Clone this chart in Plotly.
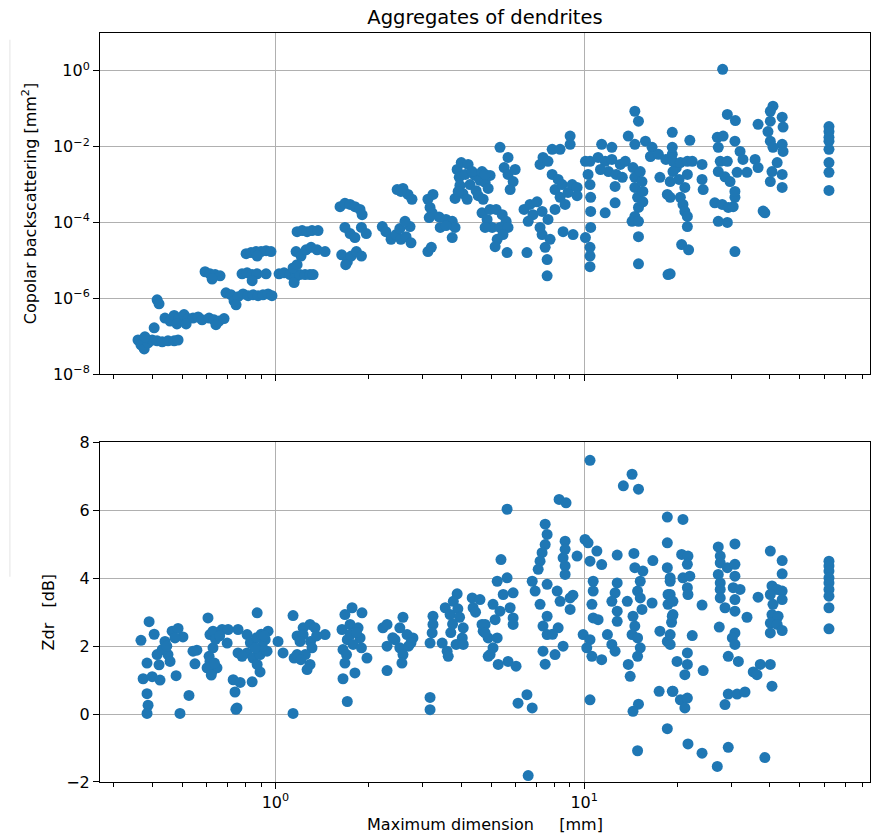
import plotly.graph_objects as go

# ---- Copolar backscattering cross section vs maximum dimension ----
top_dmax_mm = [
    0.359, 0.367, 0.376, 0.387, 0.399, 0.414, 0.430, 0.449, 0.470, 0.484, 0.378, 0.405, 0.414, 0.420,
    0.439, 0.456, 0.470, 0.488, 0.506, 0.521, 0.541, 0.562, 0.579, 0.480, 0.514,
    0.610, 0.633, 0.657, 0.682, 0.642, 0.592, 0.614, 0.638, 0.662, 0.624,
    0.692, 0.719, 0.735, 0.757, 0.786, 0.816, 0.847, 0.879, 0.912, 0.947, 0.975, 0.746,
    0.780, 0.810, 0.841, 0.873, 0.933, 0.841, 0.804, 0.834, 0.866, 0.899, 0.933, 0.968, 0.873,
    1.028, 1.067, 1.116, 1.158, 1.150, 1.20, 1.248, 1.295, 1.325, 1.141, 1.176,
    1.176, 1.221, 1.267, 1.314, 1.375, 1.167, 1.211, 1.257, 1.305, 1.365, 1.449,
    1.62, 1.68, 1.746, 1.81, 1.88, 1.91, 1.68, 1.746, 1.81, 1.90, 1.97, 1.64, 1.71, 1.76, 1.83, 1.90, 1.69,
    2.22, 2.28, 2.37, 2.46, 2.55, 2.65, 2.53, 2.73, 2.63, 2.75, 2.48, 2.59, 2.69, 2.77, 2.55,
    3.12, 3.24, 3.17, 3.22, 3.39, 3.57, 3.74, 3.82, 3.74, 3.42, 3.57, 3.15, 3.12, 3.20,
    3.88, 3.94, 3.96, 4.05, 4.18, 4.27, 4.43, 4.60, 4.78, 4.96, 4.00, 4.21, 3.82, 4.47, 4.12, 4.34, 4.67, 4.89, 4.54, 3.91,
    4.67, 4.85, 5.04, 5.23, 4.78, 5.15, 4.96, 4.78, 4.71,
    5.34, 5.67, 5.51, 5.67, 5.89, 5.76, 5.98,
    5.19, 5.43, 5.59, 5.34, 5.67, 5.46, 5.63, 6.53,
    6.39, 6.68, 7.04, 6.83, 7.31, 7.64, 6.59, 7.31, 7.48, 7.59, 7.59, 7.20, 7.76,
    7.20, 7.36, 7.88, 8.36, 9.01, 9.01, 7.64,
    7.88, 8.24, 8.05, 8.49, 8.36, 8.68, 8.87, 8.05, 9.15, 8.55, 9.21, 9.49, 9.49,
    10.1, 10.45, 10.3, 10.45, 10.5, 10.5, 10.5, 10.1, 10.45, 10.45, 10.45,
    11.4, 12.3, 11.7, 12.6, 11.1, 11.7, 12.3, 13.1, 13.6, 12.0, 12.7, 13.3, 11.3, 12.6,
    14.6, 15.0, 13.9, 14.6, 15.8, 16.6,
    14.4, 14.6, 14.6, 14.9, 15.0, 14.6, 14.3, 15.0, 15.2, 15.4, 15.5, 15.5, 15.0, 15.0,
    16.4, 17.4, 18.4, 19.3, 17.6, 18.6, 18.7, 19.3, 19.9, 20.3,
    22.0, 19.3, 19.4, 19.4, 19.0, 19.0, 20.5, 21.6, 22.4, 24.1, 21.6, 21.2, 24.1, 24.3,
    20.5, 20.9, 21.2, 21.6, 21.6, 20.7, 21.8, 19.0,
    28.1, 29.1, 30.9, 27.0, 28.2, 27.2, 27.6, 27.2, 29.1, 28.6, 29.7,
    26.5, 28.0, 29.3, 30.4, 27.2, 29.1, 30.8, 30.8, 30.8, 32.0, 32.7, 31.3, 33.7, 30.8,
    35.8, 36.6, 36.6, 38.5, 38.0, 40.9, 40.1, 40.1, 39.4, 43.8, 44.1, 40.1, 43.8, 44.1, 42.2,
    40.6, 40.1, 43.8, 43.8, 40.9,
    62.1, 62.1, 62.1, 62.1, 62.1, 62.1, 62.1, 62.1,
]
top_backscatter_mm2 = [
    7.9e-8, 5.9e-8, 4.6e-8, 6.6e-8, 7.9e-8, 7.5e-8, 7.1e-8, 7.5e-8, 7.5e-8, 7.9e-8, 9.6e-8, 1.66e-7, 9.1e-7, 7.1e-7,
    3.0e-7, 2.5e-7, 3.5e-7, 3.0e-7, 3.7e-7, 2.9e-7, 3.0e-7, 3.2e-7, 2.7e-7, 2.1e-7, 2.1e-7,
    3.0e-7, 2.7e-7, 2.5e-7, 2.9e-7, 2.0e-7, 5.0e-6, 4.4e-6, 4.2e-6, 3.9e-6, 3.2e-6,
    1.39e-6, 1.23e-6, 8.5e-7, 1.1e-6, 1.3e-6, 1.17e-6, 1.23e-6, 1.17e-6, 1.23e-6, 1.3e-6, 1.17e-6, 6.7e-7,
    4.4e-6, 4.7e-6, 4.2e-6, 4.4e-6, 4.4e-6, 2.9e-6, 1.5e-5, 1.6e-5, 1.7e-5, 1.7e-5, 1.8e-5, 1.7e-5, 1.3e-5,
    4.4e-6, 4.7e-6, 4.2e-6, 3.5e-6, 2.6e-6, 4.2e-6, 4.2e-6, 4.2e-6, 4.2e-6, 6.3e-6, 7.7e-6,
    5.7e-5, 6.1e-5, 5.7e-5, 6.1e-5, 6.1e-5, 1.7e-5, 1.3e-5, 1.9e-5, 2.2e-5, 1.9e-5, 1.7e-5,
    2.6e-4, 3.2e-4, 3.0e-4, 2.6e-4, 2.2e-4, 1.6e-4, 7.4e-5, 5.1e-5, 4.0e-5, 7.4e-5, 5.1e-5, 1.4e-5, 9.1e-6, 1.3e-5, 1.7e-5, 1.3e-5, 7.7e-6,
    7.8e-5, 5.7e-5, 3.6e-5, 4.8e-5, 3.6e-5, 4.2e-5, 6.9e-5, 7.8e-5, 1.07e-4, 2.9e-5, 7.4e-4, 7.9e-4, 5.5e-4, 4.1e-4, 6.6e-4,
    4.1e-4, 5.5e-4, 2.5e-4, 1.8e-4, 1.4e-4, 1.2e-4, 1.07e-4, 7.4e-5, 4.0e-5, 7.4e-5, 8.3e-5, 1.35e-4, 1.7e-5, 2.2e-5,
    2.5e-3, 1.55e-3, 9.5e-4, 5.8e-4, 4.1e-4, 1.0e-3, 1.74e-3, 1.29e-3, 1.14e-3, 1.74e-3, 3.8e-3, 3.4e-3, 4.3e-4, 6.9e-4, 1.85e-3, 2.2e-3, 2.2e-3, 7.9e-4, 5.1e-4, 6.6e-4,
    1.8e-4, 1.2e-4, 7.4e-5, 3.6e-5, 7.4e-5, 2.3e-5, 2.2e-4, 1.85e-3, 4.1e-4,
    9.6e-3, 5.2e-3, 2.8e-3, 1.85e-3, 1.2e-3, 7.4e-4, 2.5e-3,
    2.2e-4, 1.6e-4, 1.07e-4, 7.4e-5, 7.4e-5, 4.8e-5, 1.6e-5, 1.6e-5,
    2.2e-4, 3.0e-4, 3.5e-4, 1.6e-4, 1.95e-4, 1.2e-4, 1.07e-4, 4.8e-5, 2.2e-5, 1.05e-5, 3.9e-6, 7.4e-5, 3.6e-5,
    3.4e-3, 5.2e-3, 8.5e-3, 8.5e-3, 1.9e-2, 1.15e-2, 4.1e-3,
    1.85e-3, 1.37e-3, 7.4e-4, 1.0e-3, 4.6e-4, 3.0e-4, 6.2e-4, 2.2e-4, 1.0e-3, 5.7e-5, 4.8e-5, 8.4e-4, 5.1e-4,
    4.1e-3, 4.1e-3, 1.85e-3, 1.0e-3, 4.6e-4, 1.95e-4, 7.4e-5, 4.0e-5, 2.2e-5, 1.3e-5, 6.8e-6,
    1.15e-2, 9.6e-3, 1.8e-4, 3.3e-4, 5.2e-3, 4.1e-3, 4.6e-3, 3.4e-3, 4.1e-3, 2.2e-3, 1.85e-3, 1.55e-3, 2.5e-3, 8.9e-4,
    8.6e-2, 4.7e-2, 1.9e-2, 1.15e-2, 1.4e-2, 9.6e-3,
    2.8e-3, 1.55e-3, 8.4e-4, 4.6e-4, 2.5e-4, 1.44e-4, 1.07e-4, 1.07e-4, 2.2e-3, 1.2e-3, 6.6e-4, 3.5e-4, 4.2e-5, 8.1e-6,
    5.5e-3, 6.3e-3, 4.6e-3, 2.4e-2, 1.55e-3, 5.5e-4, 4.2e-6, 6.3e-3, 2.8e-3, 1.37e-3,
    1.47e-2, 9.6e-3, 4.1e-3, 2.2e-3, 1.2e-3, 4.6e-4, 3.8e-3, 4.1e-3, 4.1e-3, 3.4e-3, 1.85e-3, 8.4e-4, 1.37e-3, 7.4e-4,
    4.6e-4, 3.0e-4, 1.95e-4, 1.44e-4, 7.8e-5, 2.6e-5, 1.9e-5, 4.4e-6,
    1.1, 7.1e-2, 4.9e-2, 1.77e-2, 1.9e-2, 9.6e-3, 4.1e-3, 2.2e-3, 4.1e-3, 1.6e-3, 1.2e-3,
    3.3e-4, 3.0e-4, 2.5e-4, 2.6e-4, 1.07e-4, 1.0e-4, 4.6e-4, 6.6e-4, 1.4e-2, 7.5e-3, 4.6e-3, 2.1e-3, 2.1e-3, 1.7e-5,
    4.6e-3, 2.8e-3, 3.9e-2, 1.8e-4, 2.0e-4, 0.117, 0.086, 4.7e-2, 2.5e-2, 6.0e-2, 3.3e-2, 1.4e-2, 1.15e-2, 7.5e-3, 3.8e-3,
    2.2e-3, 1.2e-3, 1.85e-3, 8.4e-4, 9.6e-3,
    3.4e-2, 2.5e-2, 1.77e-2, 1.4e-2, 8.5e-3, 3.8e-3, 2.1e-3, 7.0e-4,
]

# ---- Differential reflectivity vs maximum dimension ----
bottom_dmax_mm = [
    0.367, 0.390, 0.405, 0.414, 0.384, 0.373, 0.399, 0.423, 0.384, 0.387, 0.384, 0.491, 0.525, 0.477,
    0.439, 0.463, 0.484, 0.502, 0.449, 0.456, 0.430, 0.473, 0.420, 0.445, 0.549, 0.557, 0.541,
    0.605, 0.614, 0.628, 0.672, 0.703, 0.698, 0.628, 0.614, 0.624, 0.647, 0.601, 0.610, 0.640, 0.660, 0.620, 0.635,
    0.730, 0.769, 0.740, 0.751, 0.745, 0.757, 0.810, 0.873, 0.841, 0.892,
    0.757, 0.810, 0.847, 0.892, 0.940, 0.947, 0.927, 0.906, 0.873, 0.780, 0.830, 0.870, 0.900, 0.920, 0.860,
    1.020, 1.059, 1.141, 1.141, 1.150, 1.176,
    1.230, 1.295, 1.344, 1.449, 1.230, 1.202, 1.300, 1.314, 1.176, 1.250, 1.295, 1.267, 1.210, 1.360,
    1.772, 1.908, 1.680, 1.644, 1.746, 1.853, 1.881, 1.710, 1.786, 1.656, 1.900, 1.980, 1.680, 1.810, 1.656, 1.710, 1.750, 1.830, 1.700,
    2.23, 2.30, 2.59, 2.53, 2.67, 2.79, 2.44, 2.30, 2.53, 2.70, 2.59, 2.57, 2.30, 2.75, 2.40,
    3.24, 3.24, 3.22, 3.17, 3.17, 3.17,
    3.88, 3.77, 3.55, 3.90, 3.68, 3.75, 4.06, 4.03, 3.47, 3.60, 3.63, 3.85, 4.06, 4.34, 4.60, 4.37, 4.45, 4.67, 4.71, 4.89, 4.89, 3.70, 3.95,
    10.45, 14.3, 13.4, 15.0, 8.30, 8.74, 5.63,
    7.48, 7.59, 7.48, 7.31, 7.20, 7.10, 8.68, 8.68, 8.55, 8.68, 8.68,
    9.49, 10.07, 10.3, 10.45, 11.0, 11.4, 12.8, 14.5, 14.6, 15.5, 16.7, 18.6, 18.6, 18.6, 19.0,
    5.38, 5.23, 5.63, 5.89, 5.47, 5.07, 5.76, 5.34, 5.89, 5.89, 5.15, 4.78, 4.78, 5.23, 5.07, 4.96, 5.27, 5.67, 6.02,
    6.11, 6.53, 6.79, 6.59,
    6.79, 6.94, 7.59, 7.20, 7.59, 7.36, 7.59, 8.18, 8.36, 8.24, 7.90, 8.55, 7.36, 8.05, 7.48,
    9.01, 9.01, 9.20,
    10.7, 10.7, 10.6, 10.7, 11.1, 9.93, 10.45, 10.2, 10.6, 11.4, 11.9, 12.3, 12.6, 10.45,
    12.8, 12.6, 12.3, 12.8, 12.8, 13.8,
    15.2, 14.9, 15.2, 15.4, 14.4, 14.6, 14.3, 14.9, 15.2, 14.9, 13.9, 14.1, 16.6, 15.0, 14.4, 14.9,
    17.6, 18.6, 18.7, 18.7, 19.3, 19.2, 20.0, 17.5, 19.3, 18.6,
    20.9, 20.7, 21.7, 21.6, 20.9, 22.0, 21.6, 21.7, 19.0, 19.0, 19.4, 19.4, 19.0, 19.0,
    24.1, 22.4, 21.6, 21.6, 21.2, 24.3, 19.4, 20.5, 21.6, 21.2, 21.7, 24.1, 27.0, 29.3, 38.5,
    27.2, 30.8, 27.6, 27.6, 29.1, 30.8, 27.2, 30.8, 27.6, 27.6, 30.4, 32.0, 27.6, 30.8, 28.6, 30.8,
    33.7, 27.4, 30.8, 30.2, 30.8, 29.3, 31.6, 28.6, 29.3, 31.3, 33.2,
    35.3, 37.2, 40.1, 36.3, 40.6, 36.6,
    40.1, 43.8, 43.8, 40.6, 42.2, 43.8, 43.8, 40.1, 40.9, 40.6, 42.5, 40.1, 42.2, 40.1, 43.8,
    62.1, 62.1, 62.1, 62.1, 62.1, 62.1, 62.1, 62.1, 62.1,
]
bottom_zdr_db = [
    2.17, 2.72, 2.35, 1.75, 1.50, 1.04, 1.10, 1.00, 0.60, 0.26, 0.02, 0.02, 0.55, 1.13,
    2.14, 2.44, 2.52, 2.27, 1.75, 1.55, 1.90, 2.24, 1.45, 2.00, 1.48, 1.88, 1.85,
    2.83, 2.34, 2.44, 2.49, 2.49, 2.09, 1.95, 1.55, 1.26, 1.36, 1.36, 1.70, 2.20, 2.30, 1.15, 1.50,
    1.01, 0.93, 0.65, 0.18, 0.14, 2.49, 2.34, 2.98, 0.95, 1.24,
    1.80, 1.80, 1.65, 1.75, 1.85, 2.44, 2.19, 2.00, 1.46, 1.70, 2.10, 2.25, 2.35, 2.30, 1.95,
    2.14, 1.80, 2.90, 0.02, 1.65, 2.30,
    2.54, 2.64, 2.54, 2.34, 2.34, 2.14, 2.14, 1.95, 1.75, 1.75, 1.46, 1.31, 1.60, 2.30,
    3.13, 2.98, 2.93, 2.49, 2.64, 2.54, 2.24, 2.19, 2.05, 1.90, 1.95, 1.65, 1.50, 1.21, 1.04, 0.37, 2.35, 2.40, 1.75,
    2.54, 2.64, 2.85, 2.54, 2.34, 2.24, 2.19, 2.00, 1.95, 2.00, 1.75, 1.50, 1.28, 2.10, 2.25,
    2.88, 2.64, 2.39, 2.09, 0.49, 0.13,
    3.54, 3.32, 3.13, 3.10, 2.93, 2.65, 2.54, 2.24, 2.09, 1.85, 1.70, 2.05, 2.05, 3.42, 3.37, 3.13, 3.00, 2.64, 2.44, 1.70, 2.24, 2.40, 2.85,
    7.47, 7.06, 6.72, 6.62, 6.32, 6.22, 6.03,
    5.59, 5.29, 4.99, 4.75, 4.50, 4.26, 5.09, 4.85, 4.60, 4.36, 4.11,
    4.65, 5.14, 5.04, 4.50, 4.80, 4.40, 4.68, 4.73, 4.31, 4.21, 4.52, 5.80, 5.04, 4.31, 4.01,
    4.55, 3.91, 4.01, 3.57, 3.52, 3.23, 3.13, 3.03, 2.83, 2.64, 2.78, 2.64, 2.39, 2.24, 1.95, 1.75, 1.46, 1.55, 1.41,
    0.32, 0.57, 0.18, -1.81,
    3.91, 3.62, 3.82, 3.23, 2.88, 2.59, 2.34, 3.62, 3.32, 2.54, 2.35, 2.00, 1.85, 1.75, 1.47,
    3.42, 3.08, 3.50,
    3.91, 3.62, 3.23, 2.83, 2.78, 2.34, 2.19, 1.95, 1.70, 1.60, 2.34, 2.05, 1.85, 0.42,
    3.86, 3.57, 3.32, 3.03, 2.73, 3.32,
    3.91, 3.62, 3.42, 3.08, 2.88, 2.59, 2.34, 2.24, 1.95, 1.70, 1.46, 1.11, 3.27, 0.29, 0.08, -1.08,
    2.44, 2.14, 3.52, 3.23, 2.88, 2.70, 1.55, 0.67, 0.67, -0.43,
    5.73, 4.70, 4.65, 4.41, 4.01, 4.06, 3.72, 3.52, 3.91, 3.52, 3.32, 2.93, 2.34, 2.05,
    3.21, 2.31, 1.80, 1.46, 1.16, 1.28, 0.67, 0.42, 0.47, 0.18, -0.88, -1.15, -1.54, -0.98, -1.28,
    4.92, 5.01, 4.65, 4.45, 4.31, 4.41, 4.11, 4.06, 3.86, 3.67, 3.72, 3.67, 3.42, 3.37, 3.13, 3.03,
    2.85, 2.56, 2.39, 2.24, 2.05, 1.70, 1.55, 0.28, 0.59, 0.59, 0.65,
    1.24, 1.46, 1.46, 1.16, 0.82, 3.44,
    4.80, 4.52, 4.13, 3.77, 3.67, 3.62, 3.37, 3.52, 3.23, 2.93, 2.88, 2.68, 2.64, 2.39, 2.46,
    4.50, 4.36, 4.21, 4.01, 3.86, 3.67, 3.47, 3.13, 2.51,
]

assert len(top_dmax_mm) == len(top_backscatter_mm2)
assert len(bottom_dmax_mm) == len(bottom_zdr_db)

# Axis tick definitions
x_major = [1, 10]
x_major_text = ["10<sup>0</sup>", "10<sup>1</sup>"]
x_minor = [0.3, 0.4, 0.5, 0.6, 0.7, 0.8, 0.9, 2, 3, 4, 5, 6, 7, 8, 9,
           20, 30, 40, 50, 60, 70, 80]
top_y_ticks = [1e-8, 1e-6, 1e-4, 1e-2, 1]
top_y_text = ["10<sup>−8</sup>", "10<sup>−6</sup>", "10<sup>−4</sup>", "10<sup>−2</sup>", "10<sup>0</sup>"]
bottom_y_ticks = [-2, 0, 2, 4, 6, 8]
bottom_y_text = ["−2", "0", "2", "4", "6", "8"]

BLUE = "#1f77b4"
GRID = "#b0b0b0"
FONT = "DejaVu Sans"
LABEL_FONT = dict(family=FONT, size=16, color="black")
NBSP = "\u00a0"

fig = go.Figure()
fig.add_trace(go.Scatter(
    x=top_dmax_mm, y=top_backscatter_mm2, mode="markers",
    marker=dict(color=BLUE, size=11, line=dict(width=0)),
    xaxis="x2", yaxis="y2", showlegend=False,
))
fig.add_trace(go.Scatter(
    x=bottom_dmax_mm, y=bottom_zdr_db, mode="markers",
    marker=dict(color=BLUE, size=11, line=dict(width=0)),
    xaxis="x", yaxis="y", showlegend=False,
))

x_common = dict(
    type="log", range=[-0.568, 1.926],
    tickvals=x_major, ticktext=x_major_text,
    ticks="outside", ticklen=6, tickwidth=1, tickcolor="black",
    showgrid=True, gridcolor=GRID, gridwidth=1,
    showline=True, linecolor="black", linewidth=1, mirror=True,
    zeroline=False,
    minor=dict(tickvals=x_minor, ticks="outside", ticklen=3.5,
               tickwidth=1, tickcolor="black", showgrid=False),
)

fig.update_layout(
    width=872, height=834,
    margin=dict(l=100, r=2, t=33, b=52),
    paper_bgcolor="white", plot_bgcolor="white",
    font=dict(family=FONT, size=16, color="black"),
    title=dict(text="Aggregates of dendrites", x=0.5, xref="paper",
               y=1 - 17 / 834, yref="container", yanchor="middle",
               font=dict(size=19.5, family=FONT, color="black")),
    xaxis=dict(**x_common, anchor="y", domain=[0, 1],
               title=dict(text="Maximum dimension" + NBSP * 5 + "[mm]", standoff=8,
                          font=LABEL_FONT)),
    xaxis2=dict(**x_common, anchor="y2", domain=[0, 1], matches="x",
                showticklabels=False),
    yaxis=dict(
        domain=[0, 0.4535], range=[-2, 8],
        tickvals=bottom_y_ticks, ticktext=bottom_y_text,
        ticks="outside", ticklen=6, tickwidth=1, tickcolor="black",
        showgrid=True, gridcolor=GRID, gridwidth=1,
        showline=True, linecolor="black", linewidth=1, mirror=True,
        zeroline=False,
        title=dict(text="Zdr" + NBSP * 3 + "[dB]", standoff=7, font=LABEL_FONT),
    ),
    yaxis2=dict(
        type="log", domain=[0.5447, 1], range=[-8, 1.0],
        tickvals=top_y_ticks, ticktext=top_y_text,
        ticks="outside", ticklen=6, tickwidth=1, tickcolor="black",
        showgrid=True, gridcolor=GRID, gridwidth=1,
        showline=True, linecolor="black", linewidth=1, mirror=True,
        zeroline=False,
        title=dict(text="Copolar backscattering [mm<sup>2</sup>]", standoff=12,
                   font=LABEL_FONT),
    ),
)

# faint rule along the left edge of the figure
fig.add_shape(type="line", xref="paper", yref="paper",
              x0=-0.117, x1=-0.117, y0=0.991, y1=0.274,
              line=dict(color="#e4e4e4", width=1))

fig.write_html("out.html")
